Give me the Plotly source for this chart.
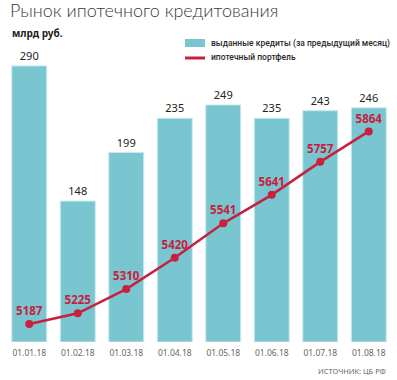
import plotly.graph_objects as go

dates = ["01.01.18", "01.02.18", "01.03.18", "01.04.18", "01.05.18", "01.06.18", "01.07.18", "01.08.18"]
loans_issued = [290, 148, 199, 235, 249, 235, 243, 246]
portfolio = [5187, 5225, 5310, 5420, 5541, 5641, 5757, 5864]
legend_labels = ["выданные кредиты (за предыдущий месяц)", "ипотечный портфель"]

W, H = 397, 380
ml, mr, mt, mb = 5, 4, 40, 38
pw = W - ml - mr
ph = H - mt - mb

bar_color = "#79c6d0"
line_color = "#c8203f"
font_main = "Noto Sans"


def px_x(x):
    return (x - ml) / pw


def px_y(y):
    return (H - mb - y) / ph


fig = go.Figure()
fig.add_trace(go.Bar(
    x=dates, y=loans_issued, name=legend_labels[0],
    marker=dict(color=bar_color, line=dict(color="#c8e9ee", width=1)),
    text=[str(v) for v in loans_issued], textposition="outside",
    textfont=dict(family=font_main, size=11, color="#222222"),
    cliponaxis=False, yaxis="y",
))
fig.add_trace(go.Scatter(
    x=dates, y=portfolio, name=legend_labels[1], yaxis="y2",
    mode="lines+markers+text",
    line=dict(color=line_color, width=2.5),
    marker=dict(color=line_color, size=8),
    text=[str(v) for v in portfolio], textposition="top center",
    textfont=dict(family=font_main, size=11.5, color=line_color, weight="bold"),
    cliponaxis=False,
))

shapes = [
    dict(type="rect", xref="paper", yref="paper",
         x0=px_x(185), x1=px_x(205), y0=px_y(47), y1=px_y(39),
         fillcolor=bar_color, line=dict(width=0)),
    dict(type="line", xref="paper", yref="paper",
         x0=px_x(185), x1=px_x(205), y0=px_y(58), y1=px_y(58),
         line=dict(color=line_color, width=3)),
]

fig.update_layout(
    width=W, height=H,
    margin=dict(l=ml, r=mr, t=mt, b=mb, autoexpand=False),
    paper_bgcolor="white", plot_bgcolor="white",
    bargap=0.28,
    showlegend=False,
    xaxis=dict(
        showgrid=False, showline=False, zeroline=False, ticks="",
        tickfont=dict(family=font_main, size=8.5, color="#666666"),
        range=[-0.5, 7.5], automargin=False, ticklabelstandoff=4,
    ),
    yaxis=dict(visible=False, range=[0, ph / 0.952]),
    yaxis2=dict(visible=False, overlaying="y", side="right",
                range=[5124, 5124 + ph / 0.2846]),
    title=dict(
        text="Рынок ипотечного кредитования",
        xref="container", yref="container", x=10 / W, y=1 - 4 / H,
        xanchor="left", yanchor="top",
        font=dict(family="Lato", size=18, color="#3a3a3a", weight=300),
    ),
    shapes=shapes,
    annotations=[
        dict(text="<b>млрд руб.</b>", xref="paper", yref="paper",
             x=px_x(10), y=px_y(33),
             xanchor="left", yanchor="middle", showarrow=False,
             font=dict(family=font_main, size=10, color="#222222")),
        dict(text=legend_labels[0], xref="paper", yref="paper",
             x=px_x(209), y=px_y(43),
             xanchor="left", yanchor="middle", showarrow=False,
             font=dict(family="Roboto", size=8.5, color="#2a2a2a", weight=500)),
        dict(text=legend_labels[1], xref="paper", yref="paper",
             x=px_x(209), y=px_y(57),
             xanchor="left", yanchor="middle", showarrow=False,
             font=dict(family="Roboto", size=8.5, color="#2a2a2a", weight=500)),
        dict(text="ИСТОЧНИК: ЦБ РФ", xref="paper", yref="paper",
             x=px_x(388), y=px_y(371),
             xanchor="right", yanchor="middle", showarrow=False,
             font=dict(family=font_main, size=7.5, color="#666666")),
    ],
)

fig.write_html(
    "out.html",
    config={"displayModeBar": False},
    post_script="document.body.style.margin='0';document.body.style.overflow='hidden';",
)
